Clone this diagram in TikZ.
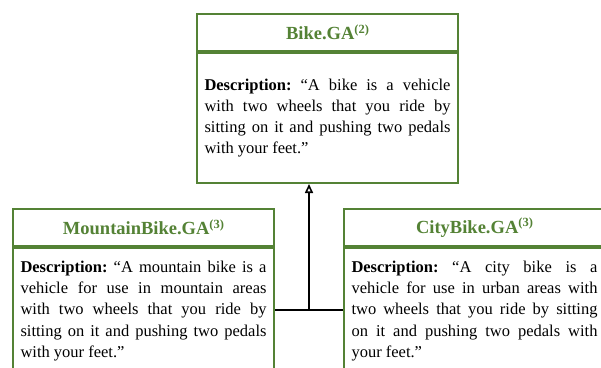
\documentclass[tikz,border=0pt]{standalone}
\usepackage{fontspec}
\setmainfont{Liberation Serif}
\usetikzlibrary{arrows.meta, positioning}
\definecolor{gagreen}{RGB}{84,130,53}
\newcommand{\gasup}[1]{\raisebox{6.5pt}{\fontsize{12.5}{12}\selectfont #1}}
\tikzset{classhead/.style = {draw=gagreen, line width=2pt, text=gagreen,
    font=\fontsize{18.5}{22}\selectfont\bfseries, minimum width=261pt,
    minimum height=37pt, inner sep=0pt}}
\tikzset{classbody/.style = {draw=gagreen, line width=2pt, text width=246pt,
    align=justify, font=\fontsize{16.5}{21.2}\selectfont\frenchspacing, inner xsep=7.5pt}}

\begin{document}
\begin{tikzpicture}[x=1pt, y=-1pt]
\useasboundingbox (0,0) rectangle (601,367);
\clip (0,0) rectangle (601,367);
% parent class
\node [classhead, anchor=north west] (bike) at (196,13) {Bike.GA\gasup{(2)}};
\node [classbody, minimum height=130pt, anchor=north] (bikeD) at (bike.south)
  {\textbf{Description:} “A bike is a vehicle\linebreak with two wheels that you ride by\linebreak
   sitting on it and pushing two pedals\linebreak with your feet.”};
% child classes
\node [classhead, anchor=north west] (mtb) at (12,208) {MountainBike.GA\gasup{(3)}};
\node [classbody, inner ysep=13pt, anchor=north] (mtbD) at (mtb.south)
  {\textbf{Description:} “A mountain bike is a\linebreak vehicle for use in mountain areas\linebreak
   with two wheels that you ride by\linebreak sitting on it and pushing two pedals\linebreak
   with your feet.”};
\node [classhead, anchor=north west] (city) at (343,208) {CityBike.GA\gasup{(3)}};
\node [classbody, inner ysep=13pt, anchor=north] (cityD) at (city.south)
  {\textbf{Description:} “A city bike is a\linebreak vehicle for use in urban areas with\linebreak
   two wheels that you ride by sitting\linebreak on it and pushing two pedals with\linebreak
   your feet.”};
% generalization
\coordinate (join) at (309,310);
\draw [line width=1.6pt] (mtbD.east |- join) -- (cityD.west |- join);
\draw [line width=1.6pt, -{Triangle[open, length=9pt, width=8pt]}] (join) -- (join |- bikeD.south);
\end{tikzpicture}
\end{document}
